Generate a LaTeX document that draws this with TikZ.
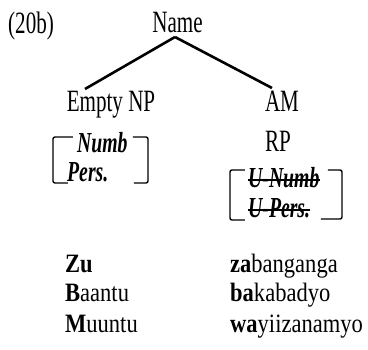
\documentclass[tikz,border=0pt]{standalone}
\usepackage{fontspec}
\setmainfont{Liberation Serif}
\newfontfamily\treefont[FakeStretch=0.68]{Liberation Serif}
\newfontfamily\exfont[FakeStretch=0.85]{Liberation Serif}
\begin{document}
\begin{tikzpicture}[x=1pt,y=-1pt,
  treelbl/.style={font=\treefont\fontsize{31}{33}\selectfont, inner sep=0pt, anchor=base},
  feat/.style={font=\treefont\fontsize{29}{31}\selectfont\bfseries\itshape, inner sep=0pt, anchor=base west},
  extext/.style={font=\exfont\fontsize{26.5}{30}\selectfont, inner sep=0pt, anchor=base west},
  branch/.style={line width=2.6pt},
  brack/.style={line width=1.4pt, rounded corners=2pt},
  strike/.style={line width=1.2pt}]
\useasboundingbox (0,0) rectangle (368,350);
\fill[white] (0,0) rectangle (368,350);
% labels
\node[treelbl, anchor=base west] (ex) at (8,34) {(20b)};
\node[treelbl] (name) at (177.5,33) {Name};
\node[treelbl] (enp) at (111,112) {Empty NP};
\node[treelbl] (am) at (282,112) {AM};
\node[treelbl] (rp) at (278,152) {RP};
% branches
\coordinate (top) at (175,37);
\coordinate (enptop) at (85,89);
\coordinate (amtop) at (272,88);
\draw[branch] (top) -- (enptop);
\draw[branch] (top) -- (amtop);
% left feature matrix
\node[feat] (numb) at (77,153) {Numb};
\node[feat] (pers) at (67,182) {Pers.};
\draw[brack] (73,137) -- (53,137) -- (53,183) -- (68,183);
\draw[brack] (133,137) -- (148,137) -- (148,183) -- (134,183);
% right feature matrix
\node[feat] (unumb) at (248,188) {U-Numb};
\node[feat] (upers) at (248,218) {U-Pers.};
\draw[strike] ([yshift=8pt]unumb.base west) -- ([yshift=8pt]unumb.base east);
\draw[strike] ([yshift=8pt]upers.base west) -- ([yshift=8pt]upers.base east);
\draw[brack] (245,170) -- (230,170) -- (230,220) -- (245,220);
\draw[brack] (328,170) -- (342,170) -- (342,219) -- (321,219);
% examples
\node[extext] (zu) at (65,273) {\textbf{Zu}};
\node[extext] (baantu) at (65,302) {\textbf{B}aantu};
\node[extext] (muuntu) at (65,333) {\textbf{M}uuntu};
\node[extext] (zab) at (230,273) {\textbf{za}banganga};
\node[extext] (bak) at (230,302) {\textbf{ba}kabadyo};
\node[extext] (way) at (230,333) {\textbf{wa}yiizanamyo};
\end{tikzpicture}
\end{document}
